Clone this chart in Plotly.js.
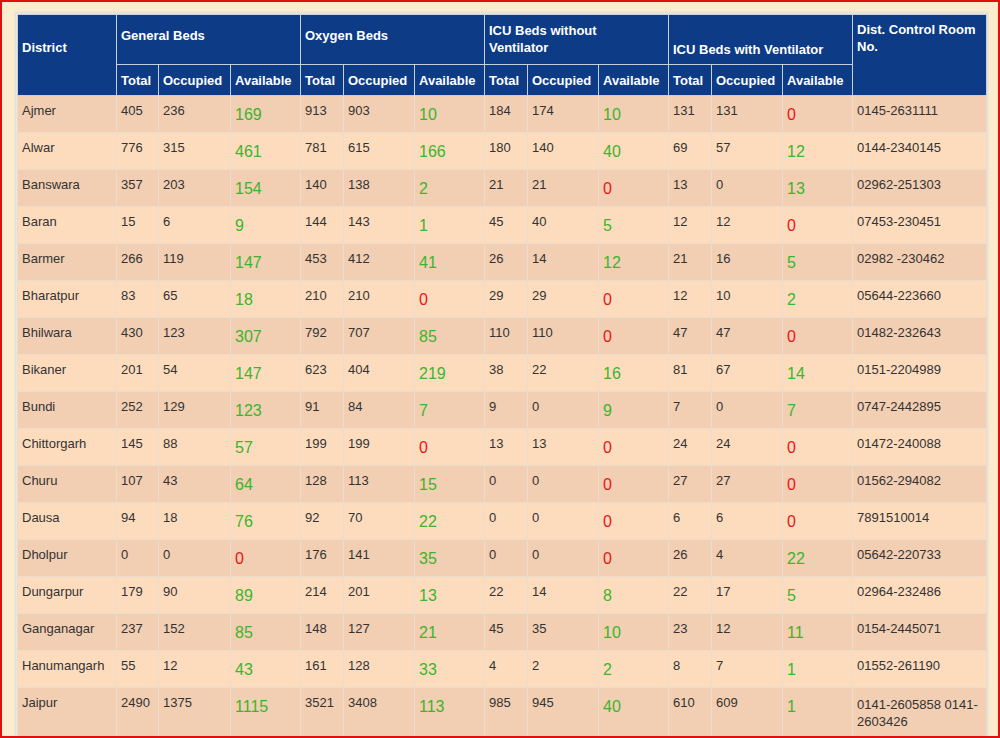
<!DOCTYPE html>
<html>
<head>
<meta charset="utf-8">
<script src="https://cdn.plot.ly/plotly-3.0.1.min.js"></script>
<style>
html,body{margin:0;padding:0;overflow:hidden;background:#fbecce;width:1000px;height:738px;}
#chart{position:absolute;left:0;top:0;width:1000px;height:800px;}
#frame{position:fixed;left:0;top:0;width:1000px;height:738px;box-sizing:border-box;border:2px solid #e01010;pointer-events:none;z-index:10;}
</style>
</head>
<body>
<div id="chart"></div>
<div id="frame"></div>
<script>
(function(){
// ---- data ----
const districts = ["Ajmer","Alwar","Banswara","Baran","Barmer","Bharatpur","Bhilwara","Bikaner","Bundi","Chittorgarh","Churu","Dausa","Dholpur","Dungarpur","Ganganagar","Hanumangarh","Jaipur"];
const genTotal  = [405,776,357,15,266,83,430,201,252,145,107,94,0,179,237,55,2490];
const genOcc    = [236,315,203,6,119,65,123,54,129,88,43,18,0,90,152,12,1375];
const genAvail  = [169,461,154,9,147,18,307,147,123,57,64,76,0,89,85,43,1115];
const oxyTotal  = [913,781,140,144,453,210,792,623,91,199,128,92,176,214,148,161,3521];
const oxyOcc    = [903,615,138,143,412,210,707,404,84,199,113,70,141,201,127,128,3408];
const oxyAvail  = [10,166,2,1,41,0,85,219,7,0,15,22,35,13,21,33,113];
const icuTotal  = [184,180,21,45,26,29,110,38,9,13,0,0,0,22,45,4,985];
const icuOcc    = [174,140,21,40,14,29,110,22,0,13,0,0,0,14,35,2,945];
const icuAvail  = [10,40,0,5,12,0,0,16,9,0,0,0,0,8,10,2,40];
const ventTotal = [131,69,13,12,21,12,47,81,7,24,27,6,26,22,23,8,610];
const ventOcc   = [131,57,0,12,16,10,47,67,0,24,27,6,4,17,12,7,609];
const ventAvail = [0,12,13,0,5,2,0,14,7,0,0,0,22,5,11,1,1];
const phones    = ["0145-2631111","0144-2340145","02962-251303","07453-230451","02982 -230462","05644-223660","01482-232643","0151-2204989","0747-2442895","01472-240088","01562-294082","7891510014","05642-220733","02964-232486","0154-2445071","01552-261190","0141-2605858 0141-<br>2603426"];
const groupHeaders = ["General Beds","Oxygen Beds","ICU Beds without<br>Ventilator","\u00a0<br>ICU Beds with Ventilator"];
const subHeaders = ["Total","Occupied","Available"];
const districtHeader = "\u00a0<br>District";
const phoneHeader = "Dist. Control Room<br>No.";

// ---- styling ----
const W = 1000, H = 800;
const BLUE = "#0d3b86";
const ROW_A = "#f2ceb2", ROW_B = "#fddcbe";
const GREEN = "#3bb52c", RED = "#e8161a", TXT = "#333333";
const HDR_LINE = "#c6d0e4", BODY_LINE = "#ecdccd";
const CLEAR = "rgba(0,0,0,0)";
const FONT = "Liberation Sans, Arial, sans-serif";
const colW = [99,42,72,70,43,71,70,43,71,70,43,71,70,134];
const X0 = 17, Y0 = 14, hdr1 = 50, hdr2 = 31, ROWH = 37;
const TX = -3; // text x nudge
const px = v => v / W, py = v => 1 - v / H;

const rawCols = [districts, genTotal, genOcc, genAvail, oxyTotal, oxyOcc, oxyAvail,
                 icuTotal, icuOcc, icuAvail, ventTotal, ventOcc, ventAvail, phones];
const availIdx = [3,6,9,12];
const isAvail = j => availIdx.includes(j);
const blankCol = () => districts.map(() => "");
// grid column whose last (two-line) row is made taller, as in the source page
const spacerCol = () => districts.map((d, i) => i === districts.length - 1 ? "\u00a0<br>\u00a0<br>\u00a0" : "");

const totalW = colW.reduce((a,b)=>a+b,0);
const midStart = X0 + colW[0];
const subW = colW.slice(1,13);
const midW = subW.reduce((a,b)=>a+b,0);
const groupW = [0,1,2,3].map(g => subW[3*g] + subW[3*g+1] + subW[3*g+2]);

const rowFill = districts.map((_, i) => i % 2 === 0 ? ROW_A : ROW_B);
const hdrFont = {family: FONT, size: 13, color: "#ffffff"};

// ---- background grid (fills + lines) ----
const gridMain = {
  type: "table",
  domain: {x: [px(X0), px(X0 + totalW)], y: [0, py(Y0)]},
  columnwidth: colW,
  header: {values: colW.map(() => ""), height: hdr1 + hdr2, fill: {color: BLUE}, line: {color: HDR_LINE, width: 1}},
  cells: {values: colW.map((w, j) => j === 13 ? spacerCol() : blankCol()), height: ROWH,
          fill: {color: colW.map(() => rowFill)}, line: {color: BODY_LINE, width: 1},
          font: {family: FONT, size: 13, color: CLEAR}}
};
const gridGroups = {
  type: "table",
  domain: {x: [px(midStart), px(midStart + midW)], y: [0, py(Y0)]},
  columnwidth: groupW,
  header: {values: groupW.map(() => ""), height: hdr1, fill: {color: BLUE}, line: {color: HDR_LINE, width: 1}},
  cells: {values: groupW.map(() => []), height: 0}
};
const gridSub = {
  type: "table",
  domain: {x: [px(midStart), px(midStart + midW)], y: [0, py(Y0 + hdr1)]},
  columnwidth: subW,
  header: {values: subW.map(() => ""), height: hdr2, fill: {color: BLUE}, line: {color: HDR_LINE, width: 1}},
  cells: {values: subW.map(() => []), height: 0}
};

// ---- transparent text layers ----
function textHeader(x, w, widths, yTop, height, values, dy) {
  return {
    type: "table",
    domain: {x: [px(x + TX), px(x + TX + w)], y: [0, py(yTop + dy)]},
    columnwidth: widths,
    header: {values: values.map(v => v ? "<b>" + v + "</b>" : ""), height: height, align: "left",
             fill: {color: CLEAR}, line: {color: CLEAR, width: 0}, font: hdrFont},
    cells: {values: widths.map(() => []), height: 0}
  };
}
function textBody(colsSel, dy, size) {
  const vals = rawCols.map((c, j) => colsSel(j) ? c : blankCol());
  const colors = rawCols.map((c, j) => isAvail(j) ? c.map(v => v > 0 ? GREEN : RED) : TXT);
  return {
    type: "table",
    domain: {x: [px(X0 + TX), px(X0 + TX + totalW)], y: [0, py(Y0 + dy)]},
    columnwidth: colW,
    header: {values: colW.map(() => ""), height: hdr1 + hdr2, fill: {color: CLEAR}, line: {color: CLEAR, width: 0}},
    cells: {values: vals, height: ROWH, align: "left", fill: {color: CLEAR}, line: {color: CLEAR, width: 0},
            font: {family: FONT, size: size, color: colors}}
  };
}

const topHdr = colW.map((w, j) => j === 0 ? districtHeader : (j === 13 ? phoneHeader : ""));
const subVals = [];
for (let g = 0; g < 4; g++) subHeaders.forEach(s => subVals.push(s));

const traces = [
  gridMain, gridGroups, gridSub,
  textHeader(X0, totalW, colW, Y0, hdr1 + hdr2, topHdr.map((v, j) => j === 0 ? v : ""), 1),
  textHeader(X0, totalW, colW, Y0, hdr1 + hdr2, topHdr.map((v, j) => j === 13 ? v : ""), 0),
  textHeader(midStart, midW, groupW, Y0, hdr1, groupHeaders.map((v, g) => g < 2 ? v : ""), 6),
  textHeader(midStart, midW, groupW, Y0, hdr1, groupHeaders.map((v, g) => g === 2 ? v : ""), 1),
  textHeader(midStart, midW, groupW, Y0, hdr1, groupHeaders.map((v, g) => g === 3 ? v : ""), 3),
  textHeader(midStart, midW, subW, Y0 + hdr1, hdr2, subVals, 1),
  textBody(j => !isAvail(j), 2, 13),
  textBody(j => isAvail(j), 5, 16)
];

Plotly.newPlot("chart", traces, {
  width: W, height: H,
  margin: {l: 0, r: 0, t: 0, b: 0},
  paper_bgcolor: "#fbecce",
  showlegend: false,
  shapes: [{
    type: "rect", xref: "paper", yref: "paper", layer: "below",
    x0: px(X0 - 1.5), x1: px(X0 + totalW + 1.5), y0: -0.1, y1: py(Y0 - 1.5),
    line: {color: "#e4e0da", width: 2}, fillcolor: CLEAR
  }]
}, {displayModeBar: false, staticPlot: true});
})();
</script>
</body>
</html>
